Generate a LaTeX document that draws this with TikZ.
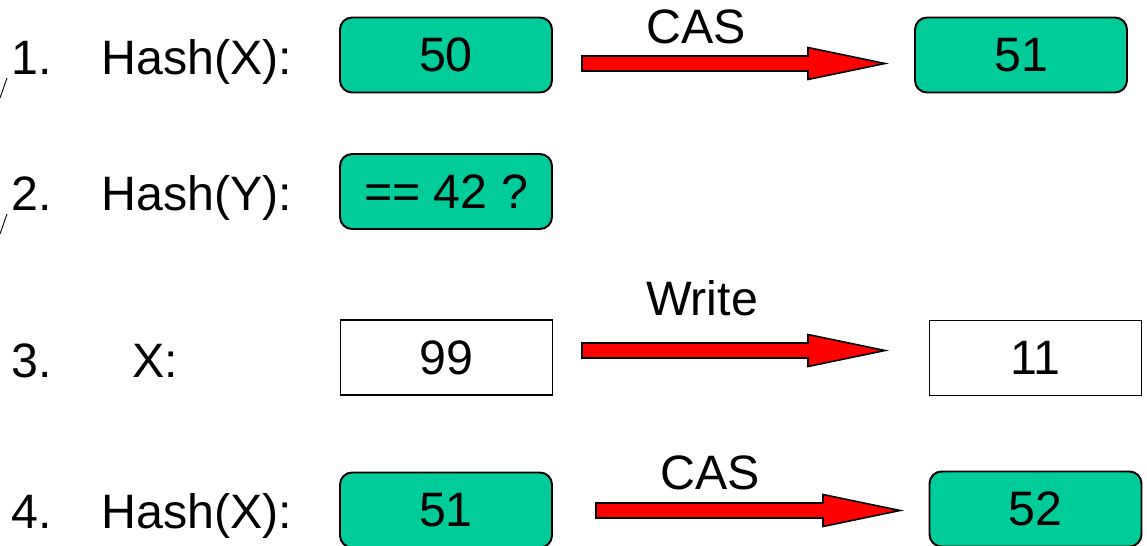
\documentclass[tikz,border=0pt]{standalone}
\usepackage{fontspec}
\setmainfont{Liberation Sans}
\usetikzlibrary{calc}

\definecolor{hashgreen}{RGB}{0,204,153}

\tikzset{
  hashbox/.style={draw, fill=hashgreen, rounded corners=0.24cm, line width=1.1pt,
    minimum width=4.24cm, minimum height=1.5cm, inner sep=0pt},
  valbox/.style={draw, fill=white, line width=1.1pt,
    minimum width=4.24cm, minimum height=1.5cm, inner sep=0pt},
  redarrow/.style={draw, fill=red, line width=0.9pt, line join=miter},
  rowlabel/.style={anchor=base west, inner sep=0pt},
  oplabel/.style={anchor=base, inner sep=0pt},
}

% block arrow from #1 to the tip #2 (horizontal)
\newcommand{\blockarrow}[2]{%
  \draw[redarrow] ($(#1)+(0,-7.5)$) -- ($(#2)+(-77,-7.5)$) -- ($(#2)+(-77,-16)$)
    -- (#2) -- ($(#2)+(-77,16)$) -- ($(#2)+(-77,7.5)$) -- ($(#1)+(0,7.5)$) -- cycle;}

\begin{document}
\begin{tikzpicture}[x=0.02cm, y=-0.02cm, font=\fontsize{27.5}{33}\selectfont]
  \useasboundingbox (0,0) rectangle (1147,545);

  % row labels
  \draw
    (11,74) node[rowlabel] (n1){1.}
    (101,74) node[rowlabel] (h1){Hash(X):}
    (11,210) node[rowlabel] (n2){2.}
    (101,210) node[rowlabel] (h2){Hash(Y):}
    (11,377) node[rowlabel] (n3){3.}
    (132,377) node[rowlabel] (h3){X:}
    (11,528) node[rowlabel] (n4){4.}
    (101,528) node[rowlabel] (h4){Hash(X):};
  \draw[line width=0.5pt] (0,98) -- (7,78);
  \draw[line width=0.5pt] (0,234) -- (7,214);

  % values
  \node[hashbox] (x50) at (446,55) {50};
  \node[hashbox] (x51) at (1021,55) {51};
  \node[hashbox] (y42) at (446,191.5) {== 42 ?};
  \node[valbox] (v99) at (446.5,357.5) {99};
  \node[valbox] (v11) at (1035.5,358) {11};
  \node[hashbox] (z51) at (446,510) {51};
  \node[hashbox] (z52) at (1035.5,509) {52};

  % operations
  \coordinate (a1) at (582,63.5);
  \coordinate (t1) at (885,63.5);
  \coordinate (a3) at (582,350.5);
  \coordinate (t3) at (885,350.5);
  \coordinate (a4) at (596,510.5);
  \coordinate (t4) at (900,510.5);
  \begin{scope}
    \blockarrow{a1}{t1}
    \blockarrow{a3}{t3}
    \blockarrow{a4}{t4}
  \end{scope}
  \node[oplabel] (cas1) at (696,43) {CAS};
  \node[oplabel] (write) at (702,315) {Write};
  \node[oplabel] (cas4) at (710,489) {CAS};
\end{tikzpicture}
\end{document}
